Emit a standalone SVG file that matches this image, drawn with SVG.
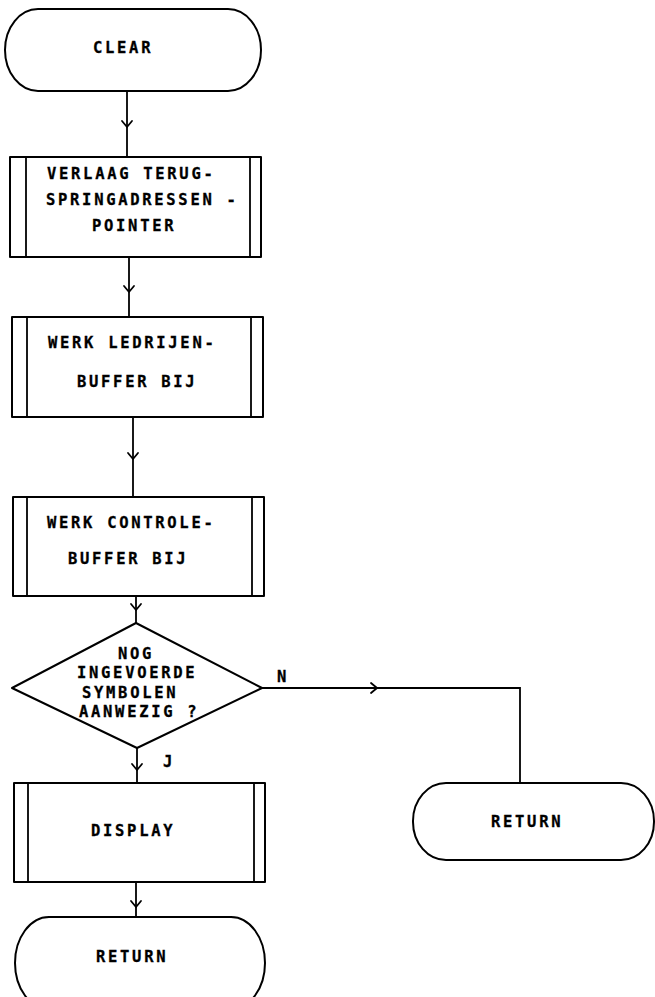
<svg xmlns="http://www.w3.org/2000/svg" width="655" height="997" viewBox="0 0 655 997">
<style>
.s{fill:none;stroke:#000;stroke-width:2;stroke-linejoin:round}
.l{fill:none;stroke:#000;stroke-width:1.8}
.a{fill:none;stroke:#000;stroke-width:1.8;stroke-linecap:round;stroke-linejoin:round}
text{font-family:"DejaVu Sans Mono","Liberation Mono",monospace;font-weight:bold;font-size:15.5px;letter-spacing:2.7px;fill:#000;stroke:#000;stroke-width:0.3}
</style>
<rect width="655" height="997" fill="#fff"/>
<g id="clear">
<rect class="s" x="5" y="9" width="256" height="82" rx="33" ry="41"/>
<text x="93" y="53">CLEAR</text>
</g>
<g id="verlaag">
<rect class="s" x="10" y="157" width="251" height="100"/>
<line class="l" x1="26" y1="157" x2="26" y2="257"/>
<line class="l" x1="250" y1="157" x2="250" y2="257"/>
<text x="47" y="179">VERLAAG TERUG-</text>
<text x="46" y="205">SPRINGADRESSEN -</text>
<text x="92" y="231">POINTER</text>
</g>
<g id="ledrijen">
<rect class="s" x="12" y="317" width="251" height="100"/>
<line class="l" x1="27" y1="317" x2="27" y2="417"/>
<line class="l" x1="251" y1="317" x2="251" y2="417"/>
<text x="48" y="348">WERK LEDRIJEN-</text>
<text x="77" y="387">BUFFER BIJ</text>
</g>
<g id="controle">
<rect class="s" x="13" y="497" width="251" height="99"/>
<line class="l" x1="27" y1="497" x2="27" y2="596"/>
<line class="l" x1="252" y1="497" x2="252" y2="596"/>
<text x="47" y="528">WERK CONTROLE-</text>
<text x="68" y="564">BUFFER BIJ</text>
</g>
<g id="beslissing">
<polygon class="s" points="136,623 262,688 137,748 12,688"/>
<text x="118" y="659">NOG</text>
<text x="77" y="678">INGEVOERDE</text>
<text x="82" y="698">SYMBOLEN</text>
<text x="79" y="717">AANWEZIG ?</text>
</g>
<g id="display">
<rect class="s" x="14" y="783" width="251" height="99"/>
<line class="l" x1="28" y1="783" x2="28" y2="882"/>
<line class="l" x1="254" y1="783" x2="254" y2="882"/>
<text x="91" y="836">DISPLAY</text>
</g>
<g id="return1">
<rect class="s" x="15" y="917" width="250" height="92" rx="34" ry="46"/>
<text x="96" y="962">RETURN</text>
</g>
<g id="return2">
<rect class="s" x="413" y="783" width="241" height="77" rx="33" ry="38"/>
<text x="491" y="827">RETURN</text>
</g>
<g id="connectors">
<line class="l" x1="127" y1="91" x2="127" y2="157"/>
<path class="a" d="M122,121 L127,127 L132,121"/>
<line class="l" x1="129" y1="257" x2="129" y2="317"/>
<path class="a" d="M124,286 L129,292 L134,286"/>
<line class="l" x1="133" y1="417" x2="133" y2="497"/>
<path class="a" d="M128,453 L133,459 L138,453"/>
<line class="l" x1="136" y1="596" x2="136" y2="623"/>
<path class="a" d="M131,604 L136,610 L141,604"/>
<line class="l" x1="137" y1="748" x2="137" y2="783"/>
<path class="a" d="M132,764 L137,770 L142,764"/>
<line class="l" x1="136" y1="882" x2="136" y2="917"/>
<path class="a" d="M131,901 L136,907 L141,901"/>
<polyline class="l" points="262,688 520,688 520,783"/>
<path class="a" d="M371,683 L377,688 L371,693"/>
<text x="277" y="682">N</text>
<text x="163" y="767">J</text>
</g>
</svg>
